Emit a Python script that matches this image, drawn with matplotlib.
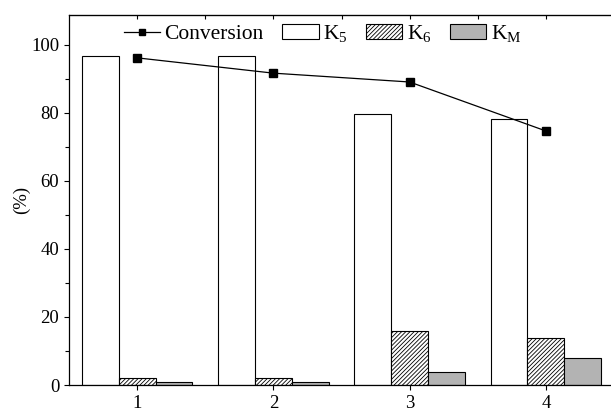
import numpy as np
import matplotlib.pyplot as plt
from matplotlib.ticker import MultipleLocator

plt.rcParams['font.family'] = 'Liberation Serif'
plt.rcParams['mathtext.fontset'] = 'custom'
plt.rcParams['mathtext.rm'] = 'Liberation Serif'
plt.rcParams['mathtext.it'] = 'Liberation Serif'
plt.rcParams['hatch.linewidth'] = 0.6

runs = [1, 2, 3, 4]
k5 = [96.6, 96.6, 79.8, 78.2]
k6 = [2.0, 2.2, 16.0, 13.7]
km = [1.0, 0.8, 3.8, 7.8]
conversion = [96.2, 91.7, 89.1, 74.7]

fig = plt.figure(figsize=(6.11, 4.12), dpi=100)
ax = fig.add_axes([69/611, 27/412, 545/611, 370/412])

x = np.array(runs, dtype=float)
w = 0.27
ax.bar(x - w, k5, w, color='white', edgecolor='black', linewidth=0.8, label='K$_5$', zorder=2)
ax.bar(x, k6, w, color='white', edgecolor='black', hatch='////////', linewidth=0.8, label='K$_6$', zorder=2)
ax.bar(x + w, km, w, color='#b3b3b3', edgecolor='black', linewidth=0.8, label='K$_\\mathrm{M}$', zorder=2)
ax.plot(x, conversion, '-', color='black', marker='s', markersize=6, linewidth=0.9,
        label='Conversion', zorder=3)

ax.set_xlim(0.5, 4.5)
ax.set_ylim(0, 108.8)
ax.set_xticks(runs)
ax.yaxis.set_major_locator(MultipleLocator(20))
ax.yaxis.set_minor_locator(MultipleLocator(10))
ax.tick_params(axis='both', labelsize=13.5, direction='out', width=0.8)
ax.tick_params(axis='y', which='minor', direction='out', length=3, width=0.8)
ax.set_ylabel('(%)', fontsize=13.5)
ax.yaxis.set_label_coords(-0.072, 0.5)
ax.spines['right'].set_visible(False)
for s in ['left', 'top', 'bottom']:
    ax.spines[s].set_linewidth(0.9)

top = ax.secondary_xaxis('top')
top.set_xticks(np.arange(1.0, 4.51, 0.5))
top.tick_params(direction='in', length=3, width=0.8, labeltop=False)

handles, labels = ax.get_legend_handles_labels()
ax.legend(handles, labels, ncol=4, frameon=False,
          loc='upper center', bbox_to_anchor=(0.465, 1.03), fontsize=15.5,
          handlelength=1.7, handleheight=0.7, columnspacing=0.85, handletextpad=0.2,
          markerscale=0.8)

fig.savefig('out.png', dpi=100)
